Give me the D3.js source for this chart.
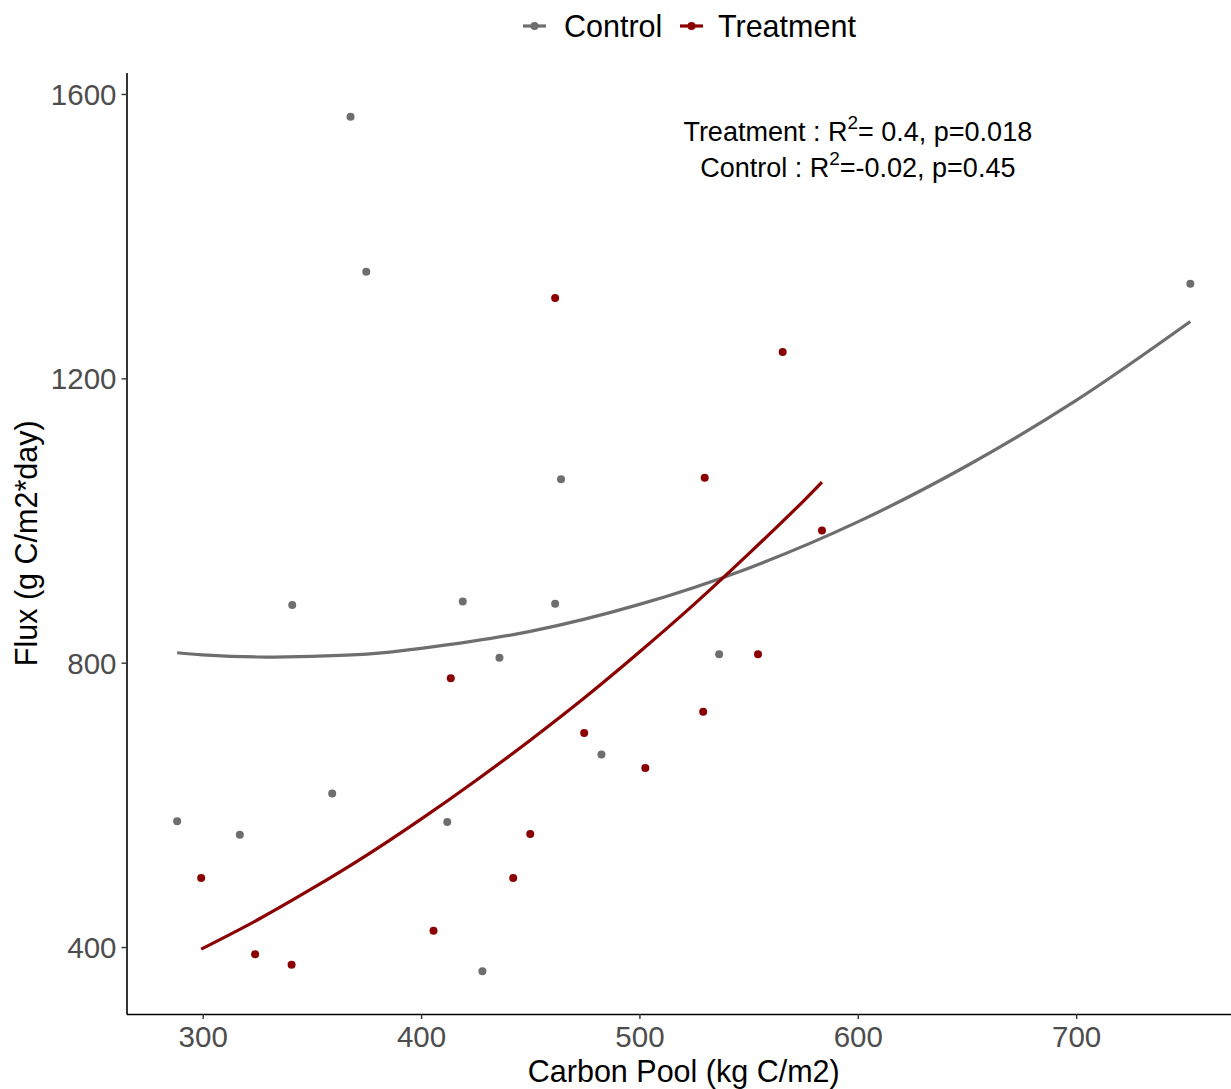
<!DOCTYPE html>
<html>
<head>
<meta charset="utf-8">
<script src="https://cdn.jsdelivr.net/npm/d3@7"></script>
<style>
  html, body { margin: 0; padding: 0; background: #ffffff; }
  svg { display: block; font-family: "Liberation Sans", Arial, sans-serif; }
</style>
</head>
<body>
<svg id="chart" width="1231" height="1089"></svg>
<script>
// ---- data ----
const controlX = [288.3, 317.0, 341.0, 359.3, 367.7, 374.9, 412.0, 419.1, 428.1, 435.9, 461.4, 464.1, 482.6, 536.5, 752.3];
const controlY = [577, 558, 881, 616, 1568, 1350, 576, 886, 366, 807, 883, 1058, 671, 812, 1333];
const treatX = [299.3, 324.0, 340.7, 405.7, 413.6, 442.2, 450.0, 461.4, 474.7, 502.7, 529.2, 529.9, 554.3, 565.6, 583.6];
const treatY = [497, 390, 375, 423, 778, 497, 559, 1313, 701, 652, 731, 1060, 812, 1237, 986];

// fitted curves
const controlFitX = [288.3, 300, 325, 350, 375, 400, 450, 500, 550, 600, 650, 700, 752.3];
const controlFitY = [814, 811, 808, 809, 812, 820, 844, 882, 933, 998, 1077, 1169, 1280];
const treatFitX = [299.3, 325, 350, 375, 400, 425, 450, 475, 500, 525, 550, 575, 583.6];
const treatFitY = [397, 438, 482, 529, 580, 634, 691, 751, 815, 882, 953, 1027, 1054];

const xTicks = [300, 400, 500, 600, 700];
const yTicks = [400, 800, 1200, 1600];
const seriesNames = ["Control", "Treatment"];
const seriesColors = ["#6e6e6e", "#8b0000"];
const annotationLines = [
  { label: "Treatment", r2: "= 0.4, p=0.018" },
  { label: "Control", r2: "=-0.02, p=0.45" }
];
const annotationX = 600;

(function () {
// ---- layout ----
const svg = d3.select("#chart");
const pLeft = 126.5, pRight = 1241, pTop = 72.5, pBottom = 1014;

const x = d3.scaleLinear().domain([265.1, 775.5]).range([pLeft, pRight]);
const y = d3.scaleLinear().domain([305.8, 1630.2]).range([pBottom, pTop]);

// axes
const xAxis = d3.axisBottom(x).tickValues(xTicks).tickSize(5).tickSizeOuter(0).tickPadding(6).tickFormat(d3.format("d"));
const yAxis = d3.axisLeft(y).tickValues(yTicks).tickSize(5).tickSizeOuter(0).tickPadding(5).tickFormat(d3.format("d"));

const gx = svg.append("g").attr("transform", `translate(0,${pBottom})`).call(xAxis);
const gy = svg.append("g").attr("transform", `translate(${pLeft},0)`).call(yAxis);

[gx, gy].forEach(g => {
  g.select(".domain").attr("stroke", "#000").attr("stroke-width", 1.6);
  g.selectAll(".tick line").attr("stroke", "#333").attr("stroke-width", 1.4);
  g.selectAll(".tick text").attr("fill", "#4d4d4d").attr("font-size", "29.5px")
    .attr("font-family", '"Liberation Sans", Arial, sans-serif');
});
gx.selectAll(".tick text").attr("y", 33).attr("dy", 0);
gy.selectAll(".tick text").attr("dy", "0.36em");

// axis titles
svg.append("text")
  .attr("x", (pLeft + pRight) / 2).attr("y", 1082)
  .attr("text-anchor", "middle").attr("font-size", "30.5px").attr("fill", "#000")
  .text("Carbon Pool (kg C/m2)");
svg.append("text")
  .attr("transform", `translate(37,${(pTop + pBottom) / 2}) rotate(-90)`)
  .attr("text-anchor", "middle").attr("font-size", "30.5px").attr("fill", "#000")
  .text("Flux (g C/m2*day)");

// fitted lines
const line = d3.line().x(d => x(d[0])).y(d => y(d[1])).curve(d3.curveCatmullRom);
const plot = svg.append("g");
plot.append("path")
  .datum(controlFitX.map((v, i) => [v, controlFitY[i]]))
  .attr("d", line).attr("fill", "none").attr("stroke", seriesColors[0]).attr("stroke-width", 3.2);
plot.append("path")
  .datum(treatFitX.map((v, i) => [v, treatFitY[i]]))
  .attr("d", line).attr("fill", "none").attr("stroke", seriesColors[1]).attr("stroke-width", 3.2);

// points
plot.selectAll("circle.control")
  .data(controlX.map((v, i) => [v, controlY[i]]))
  .join("circle").attr("class", "control")
  .attr("cx", d => x(d[0])).attr("cy", d => y(d[1])).attr("r", 4)
  .attr("fill", seriesColors[0]);
plot.selectAll("circle.treat")
  .data(treatX.map((v, i) => [v, treatY[i]]))
  .join("circle").attr("class", "treat")
  .attr("cx", d => x(d[0])).attr("cy", d => y(d[1])).attr("r", 4)
  .attr("fill", seriesColors[1]);

// annotation
const ann = svg.append("g").attr("font-size", "27px").attr("fill", "#000");
annotationLines.forEach((a, i) => {
  const t = ann.append("text")
    .attr("x", x(annotationX)).attr("y", 141 + i * 36)
    .attr("text-anchor", "middle");
  t.append("tspan").text(a.label + " : R");
  t.append("tspan").attr("font-size", "19px").attr("dy", "-12").text("2");
  t.append("tspan").attr("dy", "12").text(a.r2);
});

// legend
const legendItems = [
  { name: seriesNames[0], color: seriesColors[0], kx: 523, tx: 564 },
  { name: seriesNames[1], color: seriesColors[1], kx: 680, tx: 718 }
];
const lg = svg.append("g");
legendItems.forEach(it => {
  lg.append("line").attr("x1", it.kx).attr("x2", it.kx + 23).attr("y1", 26).attr("y2", 26)
    .attr("stroke", it.color).attr("stroke-width", 3.2);
  lg.append("circle").attr("cx", it.kx + 11.5).attr("cy", 26).attr("r", 4).attr("fill", it.color);
  lg.append("text").attr("x", it.tx).attr("y", 37).attr("font-size", "30.5px").attr("fill", "#000")
    .text(it.name);
});
})();
</script>
</body>
</html>
